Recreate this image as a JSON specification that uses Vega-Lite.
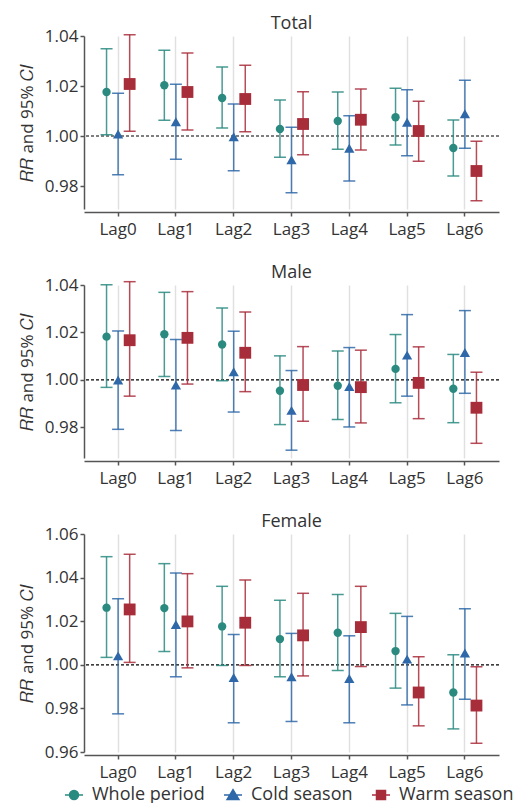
{
  "$schema": "https://vega.github.io/schema/vega-lite/v6.json",
  "background": "white",
  "padding": {"left": 18, "top": 15, "right": 10, "bottom": 0},
  "config": {
    "font": "Open Sans",
    "view": {"stroke": null},
    "axis": {"labelFont": "Open Sans", "labelFontSize": 17, "labelColor": "#333", "titleFont": "Open Sans", "titleFontSize": 17, "titleFontWeight": "normal", "titleColor": "#333", "gridColor": "#e0e0e0", "gridWidth": 1.5, "domainColor": "#555", "domainWidth": 1.5, "tickColor": "#555", "tickWidth": 1.5},
    "title": {"font": "Open Sans", "fontSize": 18, "fontWeight": "normal", "color": "#333", "offset": -6},
    "concat": {"spacing": 27}
  },
  "datasets": {
    "d": [
      {"group": "Total", "lag": "Lag0", "series": "Whole period", "rr": 1.0176, "lower": 1.0005, "upper": 1.0349},
      {"group": "Total", "lag": "Lag0", "series": "Cold season", "rr": 1.0008, "lower": 0.9845, "upper": 1.0171},
      {"group": "Total", "lag": "Lag0", "series": "Warm season", "rr": 1.0208, "lower": 1.0019, "upper": 1.0405},
      {"group": "Total", "lag": "Lag1", "series": "Whole period", "rr": 1.0203, "lower": 1.0063, "upper": 1.0343},
      {"group": "Total", "lag": "Lag1", "series": "Cold season", "rr": 1.0057, "lower": 0.9907, "upper": 1.0207},
      {"group": "Total", "lag": "Lag1", "series": "Warm season", "rr": 1.0176, "lower": 1.0024, "upper": 1.0332},
      {"group": "Total", "lag": "Lag2", "series": "Whole period", "rr": 1.0152, "lower": 1.0032, "upper": 1.0276},
      {"group": "Total", "lag": "Lag2", "series": "Cold season", "rr": 0.9997, "lower": 0.9861, "upper": 1.0128},
      {"group": "Total", "lag": "Lag2", "series": "Warm season", "rr": 1.0148, "lower": 1.0017, "upper": 1.0283},
      {"group": "Total", "lag": "Lag3", "series": "Whole period", "rr": 1.0028, "lower": 0.9915, "upper": 1.0144},
      {"group": "Total", "lag": "Lag3", "series": "Cold season", "rr": 0.9905, "lower": 0.9773, "upper": 1.0035},
      {"group": "Total", "lag": "Lag3", "series": "Warm season", "rr": 1.0048, "lower": 0.9925, "upper": 1.0177},
      {"group": "Total", "lag": "Lag4", "series": "Whole period", "rr": 1.0060, "lower": 0.9947, "upper": 1.0176},
      {"group": "Total", "lag": "Lag4", "series": "Cold season", "rr": 0.9951, "lower": 0.9820, "upper": 1.0081},
      {"group": "Total", "lag": "Lag4", "series": "Warm season", "rr": 1.0065, "lower": 0.9944, "upper": 1.0188},
      {"group": "Total", "lag": "Lag5", "series": "Whole period", "rr": 1.0075, "lower": 0.9964, "upper": 1.0191},
      {"group": "Total", "lag": "Lag5", "series": "Cold season", "rr": 1.0055, "lower": 0.9921, "upper": 1.0185},
      {"group": "Total", "lag": "Lag5", "series": "Warm season", "rr": 1.0020, "lower": 0.9899, "upper": 1.0139},
      {"group": "Total", "lag": "Lag6", "series": "Whole period", "rr": 0.9952, "lower": 0.9840, "upper": 1.0064},
      {"group": "Total", "lag": "Lag6", "series": "Cold season", "rr": 1.0089, "lower": 0.9951, "upper": 1.0223},
      {"group": "Total", "lag": "Lag6", "series": "Warm season", "rr": 0.9860, "lower": 0.9741, "upper": 0.9979},
      {"group": "Male", "lag": "Lag0", "series": "Whole period", "rr": 1.0182, "lower": 0.9968, "upper": 1.0401},
      {"group": "Male", "lag": "Lag0", "series": "Cold season", "rr": 0.9999, "lower": 0.9791, "upper": 1.0206},
      {"group": "Male", "lag": "Lag0", "series": "Warm season", "rr": 1.0167, "lower": 0.9931, "upper": 1.0414},
      {"group": "Male", "lag": "Lag1", "series": "Whole period", "rr": 1.0192, "lower": 1.0014, "upper": 1.0369},
      {"group": "Male", "lag": "Lag1", "series": "Cold season", "rr": 0.9978, "lower": 0.9786, "upper": 1.0170},
      {"group": "Male", "lag": "Lag1", "series": "Warm season", "rr": 1.0177, "lower": 0.9982, "upper": 1.0372},
      {"group": "Male", "lag": "Lag2", "series": "Whole period", "rr": 1.0149, "lower": 0.9996, "upper": 1.0303},
      {"group": "Male", "lag": "Lag2", "series": "Cold season", "rr": 1.0034, "lower": 0.9864, "upper": 1.0205},
      {"group": "Male", "lag": "Lag2", "series": "Warm season", "rr": 1.0114, "lower": 0.9950, "upper": 1.0286},
      {"group": "Male", "lag": "Lag3", "series": "Whole period", "rr": 0.9954, "lower": 0.9811, "upper": 1.0101},
      {"group": "Male", "lag": "Lag3", "series": "Cold season", "rr": 0.9871, "lower": 0.9703, "upper": 1.0039},
      {"group": "Male", "lag": "Lag3", "series": "Warm season", "rr": 0.9978, "lower": 0.9825, "upper": 1.0140},
      {"group": "Male", "lag": "Lag4", "series": "Whole period", "rr": 0.9975, "lower": 0.9832, "upper": 1.0122},
      {"group": "Male", "lag": "Lag4", "series": "Cold season", "rr": 0.9971, "lower": 0.9801, "upper": 1.0136},
      {"group": "Male", "lag": "Lag4", "series": "Warm season", "rr": 0.9969, "lower": 0.9818, "upper": 1.0125},
      {"group": "Male", "lag": "Lag5", "series": "Whole period", "rr": 1.0046, "lower": 0.9903, "upper": 1.0191},
      {"group": "Male", "lag": "Lag5", "series": "Cold season", "rr": 1.0104, "lower": 0.9931, "upper": 1.0275},
      {"group": "Male", "lag": "Lag5", "series": "Warm season", "rr": 0.9987, "lower": 0.9836, "upper": 1.0139},
      {"group": "Male", "lag": "Lag6", "series": "Whole period", "rr": 0.9962, "lower": 0.9819, "upper": 1.0107},
      {"group": "Male", "lag": "Lag6", "series": "Cold season", "rr": 1.0115, "lower": 0.9943, "upper": 1.0292},
      {"group": "Male", "lag": "Lag6", "series": "Warm season", "rr": 0.9882, "lower": 0.9732, "upper": 1.0032},
      {"group": "Female", "lag": "Lag0", "series": "Whole period", "rr": 1.0262, "lower": 1.0034, "upper": 1.0496},
      {"group": "Female", "lag": "Lag0", "series": "Cold season", "rr": 1.0041, "lower": 0.9775, "upper": 1.0303},
      {"group": "Female", "lag": "Lag0", "series": "Warm season", "rr": 1.0254, "lower": 1.0011, "upper": 1.0507},
      {"group": "Female", "lag": "Lag1", "series": "Whole period", "rr": 1.0260, "lower": 1.0061, "upper": 1.0464},
      {"group": "Female", "lag": "Lag1", "series": "Cold season", "rr": 1.0185, "lower": 0.9945, "upper": 1.0421},
      {"group": "Female", "lag": "Lag1", "series": "Warm season", "rr": 1.0199, "lower": 0.9986, "upper": 1.0418},
      {"group": "Female", "lag": "Lag2", "series": "Whole period", "rr": 1.0176, "lower": 0.9997, "upper": 1.0360},
      {"group": "Female", "lag": "Lag2", "series": "Cold season", "rr": 0.9942, "lower": 0.9734, "upper": 1.0139},
      {"group": "Female", "lag": "Lag2", "series": "Warm season", "rr": 1.0193, "lower": 0.9997, "upper": 1.0389},
      {"group": "Female", "lag": "Lag3", "series": "Whole period", "rr": 1.0118, "lower": 0.9945, "upper": 1.0296},
      {"group": "Female", "lag": "Lag3", "series": "Cold season", "rr": 0.9945, "lower": 0.9740, "upper": 1.0144},
      {"group": "Female", "lag": "Lag3", "series": "Warm season", "rr": 1.0135, "lower": 0.9949, "upper": 1.0328},
      {"group": "Female", "lag": "Lag4", "series": "Whole period", "rr": 1.0147, "lower": 0.9974, "upper": 1.0323},
      {"group": "Female", "lag": "Lag4", "series": "Cold season", "rr": 0.9937, "lower": 0.9734, "upper": 1.0133},
      {"group": "Female", "lag": "Lag4", "series": "Warm season", "rr": 1.0173, "lower": 0.9992, "upper": 1.0360},
      {"group": "Female", "lag": "Lag5", "series": "Whole period", "rr": 1.0063, "lower": 0.9893, "upper": 1.0236},
      {"group": "Female", "lag": "Lag5", "series": "Cold season", "rr": 1.0026, "lower": 0.9816, "upper": 1.0222},
      {"group": "Female", "lag": "Lag5", "series": "Warm season", "rr": 0.9873, "lower": 0.9720, "upper": 1.0037},
      {"group": "Female", "lag": "Lag6", "series": "Whole period", "rr": 0.9873, "lower": 0.9706, "upper": 1.0046},
      {"group": "Female", "lag": "Lag6", "series": "Cold season", "rr": 1.0054, "lower": 0.9842, "upper": 1.0257},
      {"group": "Female", "lag": "Lag6", "series": "Warm season", "rr": 0.9813, "lower": 0.9640, "upper": 0.9991}
    ]
  },
  "resolve": {"scale": {"y": "independent", "color": "independent", "shape": "independent", "stroke": "independent", "size": "independent"}},
  "vconcat": [
    {
      "title": "Total",
      "width": 415, "height": 173,
      "data": {"name": "d"},
      "transform": [{"filter": "datum.group === 'Total'"}],
      "layer": [
        {"data": {"values": [{}]}, "mark": {"type": "rule", "color": "black", "strokeDash": [3, 2], "strokeWidth": 1.2},
         "encoding": {"y": {"datum": 1, "type": "quantitative", "scale": {"domain": [0.9708, 1.04], "nice": false, "zero": false}, "axis": {"values": [0.98, 1.0, 1.02, 1.04], "format": ".2f", "title": "𝑅𝑅 and 95% 𝐶𝐼", "tickSize": 4, "labelPadding": 2, "titlePadding": 8}}}},
        {"mark": {"type": "rule", "strokeWidth": 1.5, "opacity": 0.85},
         "encoding": {
           "x": {"field": "lag", "type": "nominal", "scale": {"type": "band", "paddingInner": 0, "paddingOuter": 0.09}, "axis": {"title": null, "labelAngle": 0, "domain": true, "ticks": true, "domainColor": "#555", "tickColor": "#555", "grid": true, "tickSize": 4, "labelPadding": 5, "offset": 3}},
           "xOffset": {"field": "series", "type": "nominal", "scale": {"domain": ["Whole period", "Cold season", "Warm season"], "paddingInner": 0, "paddingOuter": 1.12}},
           "y": {"field": "lower", "type": "quantitative"}, "y2": {"field": "upper"},
           "color": {"field": "series", "type": "nominal", "scale": {"domain": ["Whole period", "Cold season", "Warm season"], "range": ["#2a8a80", "#2f68a8", "#a82d3b"]}, "legend": null}}},
        {"mark": {"type": "tick", "thickness": 1.5, "size": 12, "opacity": 0.85},
         "encoding": {"x": {"field": "lag", "type": "nominal"}, "xOffset": {"field": "series", "type": "nominal"}, "y": {"field": "upper", "type": "quantitative"}, "color": {"field": "series", "type": "nominal", "legend": null}}},
        {"mark": {"type": "tick", "thickness": 1.5, "size": 12, "opacity": 0.85},
         "encoding": {"x": {"field": "lag", "type": "nominal"}, "xOffset": {"field": "series", "type": "nominal"}, "y": {"field": "lower", "type": "quantitative"}, "color": {"field": "series", "type": "nominal", "legend": null}}},
        {"mark": {"type": "point", "filled": true, "opacity": 1},
         "encoding": {"x": {"field": "lag", "type": "nominal"}, "xOffset": {"field": "series", "type": "nominal"}, "y": {"field": "rr", "type": "quantitative"},
           "color": {"field": "series", "type": "nominal", "legend": null},
           "shape": {"field": "series", "type": "nominal", "scale": {"domain": ["Whole period", "Cold season", "Warm season"], "range": ["circle", "triangle-up", "square"]}, "legend": null},
           "size": {"field": "series", "type": "nominal", "scale": {"domain": ["Whole period", "Cold season", "Warm season"], "range": [70, 140, 100]}, "legend": null}}}
      ]
    },
    {
      "title": "Male",
      "width": 415, "height": 173,
      "data": {"name": "d"},
      "transform": [{"filter": "datum.group === 'Male'"}],
      "layer": [
        {"data": {"values": [{}]}, "mark": {"type": "rule", "color": "black", "strokeDash": [3, 2], "strokeWidth": 1.2},
         "encoding": {"y": {"datum": 1, "type": "quantitative", "scale": {"domain": [0.967, 1.04], "nice": false, "zero": false}, "axis": {"values": [0.98, 1.0, 1.02, 1.04], "format": ".2f", "title": "𝑅𝑅 and 95% 𝐶𝐼", "tickSize": 4, "labelPadding": 2, "titlePadding": 8}}}},
        {"mark": {"type": "rule", "strokeWidth": 1.5, "opacity": 0.85},
         "encoding": {
           "x": {"field": "lag", "type": "nominal", "scale": {"type": "band", "paddingInner": 0, "paddingOuter": 0.09}, "axis": {"title": null, "labelAngle": 0, "domain": true, "ticks": true, "domainColor": "#555", "tickColor": "#555", "grid": true, "tickSize": 4, "labelPadding": 5, "offset": 3}},
           "xOffset": {"field": "series", "type": "nominal", "scale": {"domain": ["Whole period", "Cold season", "Warm season"], "paddingInner": 0, "paddingOuter": 1.12}},
           "y": {"field": "lower", "type": "quantitative"}, "y2": {"field": "upper"},
           "color": {"field": "series", "type": "nominal", "scale": {"domain": ["Whole period", "Cold season", "Warm season"], "range": ["#2a8a80", "#2f68a8", "#a82d3b"]}, "legend": null}}},
        {"mark": {"type": "tick", "thickness": 1.5, "size": 12, "opacity": 0.85},
         "encoding": {"x": {"field": "lag", "type": "nominal"}, "xOffset": {"field": "series", "type": "nominal"}, "y": {"field": "upper", "type": "quantitative"}, "color": {"field": "series", "type": "nominal", "legend": null}}},
        {"mark": {"type": "tick", "thickness": 1.5, "size": 12, "opacity": 0.85},
         "encoding": {"x": {"field": "lag", "type": "nominal"}, "xOffset": {"field": "series", "type": "nominal"}, "y": {"field": "lower", "type": "quantitative"}, "color": {"field": "series", "type": "nominal", "legend": null}}},
        {"mark": {"type": "point", "filled": true, "opacity": 1},
         "encoding": {"x": {"field": "lag", "type": "nominal"}, "xOffset": {"field": "series", "type": "nominal"}, "y": {"field": "rr", "type": "quantitative"},
           "color": {"field": "series", "type": "nominal", "legend": null},
           "shape": {"field": "series", "type": "nominal", "scale": {"domain": ["Whole period", "Cold season", "Warm season"], "range": ["circle", "triangle-up", "square"]}, "legend": null},
           "size": {"field": "series", "type": "nominal", "scale": {"domain": ["Whole period", "Cold season", "Warm season"], "range": [70, 140, 100]}, "legend": null}}}
      ]
    },
    {
      "title": "Female",
      "width": 415, "height": 218,
      "data": {"name": "d"},
      "transform": [{"filter": "datum.group === 'Female'"}],
      "resolve": {"scale": {"color": "independent", "shape": "independent", "stroke": "independent", "size": "independent"}},
      "layer": [
        {"data": {"values": [{}]}, "mark": {"type": "rule", "color": "black", "strokeDash": [3, 2], "strokeWidth": 1.2},
         "encoding": {"y": {"datum": 1, "type": "quantitative", "scale": {"domain": [0.96, 1.06], "nice": false, "zero": false}, "axis": {"values": [0.96, 0.98, 1.0, 1.02, 1.04, 1.06], "format": ".2f", "title": "𝑅𝑅 and 95% 𝐶𝐼", "tickSize": 4, "labelPadding": 2, "titlePadding": 8}}}},
        {"mark": {"type": "rule", "strokeWidth": 1.5, "opacity": 0.85},
         "encoding": {
           "x": {"field": "lag", "type": "nominal", "scale": {"type": "band", "paddingInner": 0, "paddingOuter": 0.09}, "axis": {"title": null, "labelAngle": 0, "domain": true, "ticks": true, "domainColor": "#555", "tickColor": "#555", "grid": true, "tickSize": 4, "labelPadding": 5, "offset": 3}},
           "xOffset": {"field": "series", "type": "nominal", "scale": {"domain": ["Whole period", "Cold season", "Warm season"], "paddingInner": 0, "paddingOuter": 1.12}},
           "y": {"field": "lower", "type": "quantitative"}, "y2": {"field": "upper"},
           "color": {"field": "series", "type": "nominal", "scale": {"domain": ["Whole period", "Cold season", "Warm season"], "range": ["#2a8a80", "#2f68a8", "#a82d3b"]}, "legend": null}}},
        {"mark": {"type": "tick", "thickness": 1.5, "size": 12, "opacity": 0.85},
         "encoding": {"x": {"field": "lag", "type": "nominal"}, "xOffset": {"field": "series", "type": "nominal"}, "y": {"field": "upper", "type": "quantitative"}, "color": {"field": "series", "type": "nominal", "scale": {"domain": ["Whole period", "Cold season", "Warm season"], "range": ["#2a8a80", "#2f68a8", "#a82d3b"]}, "legend": null}}},
        {"mark": {"type": "tick", "thickness": 1.5, "size": 12, "opacity": 0.85},
         "encoding": {"x": {"field": "lag", "type": "nominal"}, "xOffset": {"field": "series", "type": "nominal"}, "y": {"field": "lower", "type": "quantitative"}, "color": {"field": "series", "type": "nominal", "scale": {"domain": ["Whole period", "Cold season", "Warm season"], "range": ["#2a8a80", "#2f68a8", "#a82d3b"]}, "legend": null}}},
        {"mark": {"type": "point", "filled": true, "opacity": 1},
         "encoding": {"x": {"field": "lag", "type": "nominal"}, "xOffset": {"field": "series", "type": "nominal"}, "y": {"field": "rr", "type": "quantitative"},
           "color": {"field": "series", "type": "nominal", "scale": {"domain": ["Whole period", "Cold season", "Warm season"], "range": ["#2a8a80", "#2f68a8", "#a82d3b"]}, "legend": null},
           "shape": {"field": "series", "type": "nominal", "scale": {"domain": ["Whole period", "Cold season", "Warm season"], "range": ["circle", "triangle-up", "square"]}, "legend": null},
           "size": {"field": "series", "type": "nominal", "scale": {"domain": ["Whole period", "Cold season", "Warm season"], "range": [70, 140, 100]}, "legend": null}}},
        {"transform": [{"filter": "false"}],
         "mark": {"type": "point", "filled": true, "opacity": 1, "strokeWidth": 1.5},
         "encoding": {
           "color": {"field": "series", "type": "nominal", "scale": {"domain": ["Whole period", "Cold season", "Warm season"], "range": ["#2a8a80", "#2f68a8", "#a82d3b"]},
             "legend": {"title": null, "orient": "none", "legendX": -20, "legendY": 251, "direction": "horizontal", "symbolSize": 324, "symbolStrokeWidth": 1.5, "labelFontSize": 18, "labelFont": "Open Sans", "labelColor": "#333", "labelOffset": 8, "columnPadding": 16}},
           "stroke": {"field": "series", "type": "nominal", "scale": {"domain": ["Whole period", "Cold season", "Warm season"], "range": ["#2a8a80", "#2f68a8", "#a82d3b"]},
             "legend": {"title": null, "orient": "none", "legendX": -20, "legendY": 251, "direction": "horizontal", "symbolSize": 324, "symbolStrokeWidth": 1.5, "labelFontSize": 18, "labelFont": "Open Sans", "labelColor": "#333", "labelOffset": 8, "columnPadding": 16}},
           "shape": {"field": "series", "type": "nominal", "scale": {"domain": ["Whole period", "Cold season", "Warm season"], "range": ["M-1,0L1,0M0.5,0A0.5,0.5,0,1,1,-0.5,0A0.5,0.5,0,1,1,0.5,0Z", "M-1,0L1,0M0,-0.6L0.66,0.5L-0.66,0.5Z", "M-1,0L1,0M-0.5,-0.5L0.5,-0.5L0.5,0.5L-0.5,0.5Z"]},
             "legend": {"title": null, "orient": "none", "legendX": -20, "legendY": 251, "direction": "horizontal", "symbolSize": 324, "symbolStrokeWidth": 1.5, "labelFontSize": 18, "labelFont": "Open Sans", "labelColor": "#333", "labelOffset": 8, "columnPadding": 16}}}}
      ]
    }
  ]
}
